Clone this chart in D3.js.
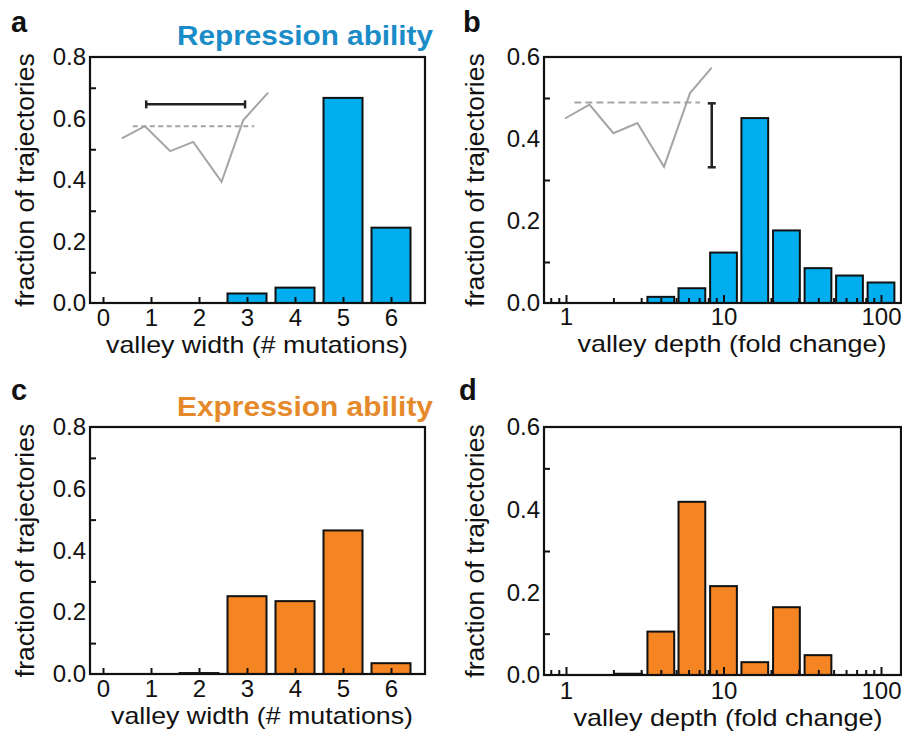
<!DOCTYPE html>
<html lang="en">
<head>
<meta charset="utf-8">
<title>Valley width and depth</title>
<script src="https://cdn.jsdelivr.net/npm/d3@7"></script>
<style>
  body { margin: 0; background: #fff; }
  text { font-family: "Liberation Sans", Arial, sans-serif; }
</style>
</head>
<body>
<script>
// valley width histograms (# mutations)
var widthCats = [0, 1, 2, 3, 4, 5, 6];
var repWidth = [0, 0, 0, 0.031, 0.05, 0.667, 0.245];
var expWidth = [0, 0, 0.003, 0.252, 0.236, 0.465, 0.035];

// valley depth histograms, log spaced bins (bin centre, fold change)
var repDepthBins = [4.0, 6.3, 10, 15.8, 25.1, 39.8, 63.1, 100];
var repDepth = [0.015, 0.036, 0.123, 0.451, 0.177, 0.085, 0.067, 0.05];
var expDepthBins = [2.5, 4.0, 6.3, 10, 15.8, 25.1, 39.8];
var expDepth = [0.003, 0.105, 0.419, 0.215, 0.031, 0.164, 0.048];

// ticks
var widthYTicks = [0, 0.2, 0.4, 0.6, 0.8];
var widthYMinor = [0.1, 0.3, 0.5, 0.7];
var depthYTicks = [0, 0.2, 0.4, 0.6];
var depthYMinor = [0.1, 0.3, 0.5];
var depthXTicks = [1, 10, 100];
var depthXMinor = [0.8, 0.9, 2, 3, 4, 5, 6, 7, 8, 9, 20, 30, 40, 50, 60, 70, 80, 90];

// little sketches of a fitness valley (panel a: width, panel b: depth)
var sketchWidthX = [0.39, 0.875, 1.40, 1.88, 2.47, 2.92, 3.44];
var sketchWidthY = [0.535, 0.575, 0.494, 0.524, 0.394, 0.594, 0.684];
var sketchWidthDash = [0.62, 3.15, 0.575];   // x0, x1, y
var sketchWidthBar = [0.9, 2.96, 0.646];     // x0, x1, y
var sketchDepthX = [0.985, 1.41, 2.0, 2.84, 4.19, 6.13, 8.42];
var sketchDepthY = [0.450, 0.484, 0.414, 0.439, 0.332, 0.512, 0.574];
var sketchDepthDash = [1.13, 7.1, 0.489];    // x0, x1, y
var sketchDepthBar = [8.42, 0.331, 0.487];   // x, y0, y1

var blue = "#00adee", orange = "#f58423";
var gray = "#a9a4a4";

var svg = d3.select("body").append("svg").attr("width", 902).attr("height", 736);

function yAxis(g, y, majors, minors, left) {
    var a = g.append("g").attr("transform", "translate(" + left + ",0)");
    a.call(d3.axisLeft(y).tickValues(majors).tickSize(0).tickPadding(4)
        .tickFormat(d3.format(".1f")));
    a.append("g").call(d3.axisRight(y).tickValues(minors).tickSize(6).tickFormat(""));
    a.selectAll(".domain").remove();
    a.selectAll("text").attr("font-size", "24px").attr("font-family", null).attr("fill", "#111");
    a.selectAll("line").attr("stroke", "#111").attr("stroke-width", 2);
    return a;
}

function frame(g, x0, x1, y0, y1) {
    g.append("rect").attr("x", x0).attr("y", y0)
        .attr("width", x1 - x0).attr("height", y1 - y0)
        .attr("fill", "none").attr("stroke", "#111").attr("stroke-width", 2.2);
}

function yTitle(g, x, yc) {
    g.append("text").attr("transform", "translate(" + x + "," + yc + ") rotate(-90)")
        .attr("text-anchor", "middle").attr("font-size", "26.5px").attr("fill", "#111")
        .text("fraction of trajectories");
}

function xTitle(g, x, y, len, s) {
    g.append("text").attr("x", x).attr("y", y).attr("text-anchor", "middle")
        .attr("font-size", "24px").attr("fill", "#111")
        .attr("textLength", len).attr("lengthAdjust", "spacingAndGlyphs")
        .text(s);
}

function letter(g, x, y, s) {
    g.append("text").attr("x", x).attr("y", y).attr("font-size", "29px")
        .attr("font-weight", "bold").attr("fill", "#111").text(s);
}

// ---------- width panels (a, c) ----------
function widthPanel(top, bottom, vals, color, title, titleY, lab, padX, xt) {
    var left = 90, right = 425;
    var x = d3.scaleLinear().domain([0, 6]).range([103, 391]);
    var y = d3.scaleLinear().domain([0, 0.8]).range([bottom, top]);
    var bw = 39;
    var g = svg.append("g");

    g.selectAll("rect.bar")
        .data(widthCats.filter(function(d, i) { return vals[i] > 0; }))
        .enter()
        .append("rect")
        .attr("class", "bar")
        .attr("x", function(d) { return x(d) - bw / 2; })
        .attr("y", function(d) { return y(vals[d]); })
        .attr("width", bw)
        .attr("height", function(d) { return y(0) - y(vals[d]); })
        .attr("fill", color).attr("stroke", "#111").attr("stroke-width", 2);

    var xa = g.append("g").attr("transform", "translate(0," + bottom + ")")
        .call(d3.axisBottom(x).tickValues(widthCats).tickSize(-6).tickPadding(padX)
            .tickFormat(d3.format("d")));
    xa.selectAll(".domain").remove();
    xa.selectAll("text").attr("font-size", "24px").attr("font-family", null).attr("fill", "#111");
    xa.selectAll("line").attr("stroke", "#111").attr("stroke-width", 2);

    yAxis(g, y, widthYTicks, widthYMinor, left);
    frame(g, left, right, top, bottom);

    xTitle(g, xt[0], xt[1], 302, "valley width (# mutations)");
    yTitle(g, 34, (top + bottom) / 2);

    g.append("text").attr("x", 433).attr("y", titleY).attr("text-anchor", "end")
        .attr("font-size", "27px").attr("font-weight", "bold").attr("fill", title[1])
        .attr("textLength", 256).attr("lengthAdjust", "spacingAndGlyphs")
        .text(title[0]);
    letter(g, lab[0], lab[1], lab[2]);
    return { g: g, x: x, y: y };
}

// ---------- depth panels (b, d) ----------
function depthPanel(top, bottom, bins, vals, color, lab, padX, xt) {
    var left = 544, right = 901;
    var x = d3.scaleLog().domain([1, 100]).range([566, 881]);
    var y = d3.scaleLinear().domain([0, 0.6]).range([bottom, top]);
    var half = Math.pow(10, 0.085);
    var g = svg.append("g");

    g.selectAll("rect.bar")
        .data(bins)
        .enter()
        .append("rect")
        .attr("class", "bar")
        .attr("x", function(d) { return x(d / half); })
        .attr("y", function(d, i) { return y(vals[i]); })
        .attr("width", function(d) { return x(d * half) - x(d / half); })
        .attr("height", function(d, i) { return y(0) - y(vals[i]); })
        .attr("fill", color).attr("stroke", "#111").attr("stroke-width", 2);

    var xa = g.append("g").attr("transform", "translate(0," + bottom + ")")
        .call(d3.axisBottom(x).tickValues(depthXTicks).tickSize(-8).tickPadding(padX)
            .tickFormat(d3.format("d")));
    xa.append("g").call(d3.axisBottom(x).tickValues(depthXMinor).tickSize(-5).tickFormat(""));
    xa.selectAll(".domain").remove();
    xa.selectAll("text").attr("font-size", "24px").attr("font-family", null).attr("fill", "#111");
    xa.selectAll("line").attr("stroke", "#111").attr("stroke-width", 2);

    yAxis(g, y, depthYTicks, depthYMinor, left);
    frame(g, left, right, top, bottom);

    xTitle(g, xt[0], xt[1], 309, "valley depth (fold change)");
    yTitle(g, 484, (top + bottom) / 2);
    letter(g, lab[0], lab[1], lab[2]);
    return { g: g, x: x, y: y };
}

var pa = widthPanel(57, 303, repWidth, blue, ["Repression ability", "#1a8cc8"], 45,
    [11, 32, "a"], 6, [257, 353]);
var pb = depthPanel(57, 303, repDepthBins, repDepth, blue, [463, 32, "b"], 5, [732, 352]);
var pc = widthPanel(427, 674, expWidth, orange, ["Expression ability", "#e5892a"], 416,
    [11, 400, "c"], 6, [262, 724]);
var pd = depthPanel(427, 675, expDepthBins, expDepth, orange, [459, 400, "d"], 7, [728, 726]);

// sketch in panel a
var lineA = d3.line()
    .x(function(d) { return pa.x(d[0]); })
    .y(function(d) { return pa.y(d[1]); });
pa.g.append("path")
    .attr("d", lineA([[sketchWidthDash[0], sketchWidthDash[2]], [sketchWidthDash[1], sketchWidthDash[2]]]))
    .attr("stroke", gray).attr("stroke-width", 2).attr("stroke-dasharray", "5,3.5").attr("fill", "none");
pa.g.append("path")
    .attr("d", lineA(d3.zip(sketchWidthX, sketchWidthY)))
    .attr("stroke", gray).attr("stroke-width", 2).attr("fill", "none");
var ebA = pa.g.append("g").attr("stroke", "#222").attr("stroke-width", 2.5);
ebA.append("line")
    .attr("x1", pa.x(sketchWidthBar[0])).attr("x2", pa.x(sketchWidthBar[1]))
    .attr("y1", pa.y(sketchWidthBar[2])).attr("y2", pa.y(sketchWidthBar[2]));
[sketchWidthBar[0], sketchWidthBar[1]].forEach(function(v) {
    ebA.append("line").attr("x1", pa.x(v)).attr("x2", pa.x(v))
        .attr("y1", pa.y(sketchWidthBar[2]) - 4).attr("y2", pa.y(sketchWidthBar[2]) + 4);
});

// sketch in panel b
var lineB = d3.line()
    .x(function(d) { return pb.x(d[0]); })
    .y(function(d) { return pb.y(d[1]); });
pb.g.append("path")
    .attr("d", lineB([[sketchDepthDash[0], sketchDepthDash[2]], [sketchDepthDash[1], sketchDepthDash[2]]]))
    .attr("stroke", gray).attr("stroke-width", 2).attr("stroke-dasharray", "7,4").attr("fill", "none");
pb.g.append("path")
    .attr("d", lineB(d3.zip(sketchDepthX, sketchDepthY)))
    .attr("stroke", gray).attr("stroke-width", 2).attr("fill", "none");
var ebB = pb.g.append("g").attr("stroke", "#222").attr("stroke-width", 2.5);
ebB.append("line")
    .attr("x1", pb.x(sketchDepthBar[0])).attr("x2", pb.x(sketchDepthBar[0]))
    .attr("y1", pb.y(sketchDepthBar[1])).attr("y2", pb.y(sketchDepthBar[2]));
[sketchDepthBar[1], sketchDepthBar[2]].forEach(function(v) {
    ebB.append("line").attr("x1", pb.x(sketchDepthBar[0]) - 4).attr("x2", pb.x(sketchDepthBar[0]) + 4)
        .attr("y1", pb.y(v)).attr("y2", pb.y(v));
});
</script>
</body>
</html>
